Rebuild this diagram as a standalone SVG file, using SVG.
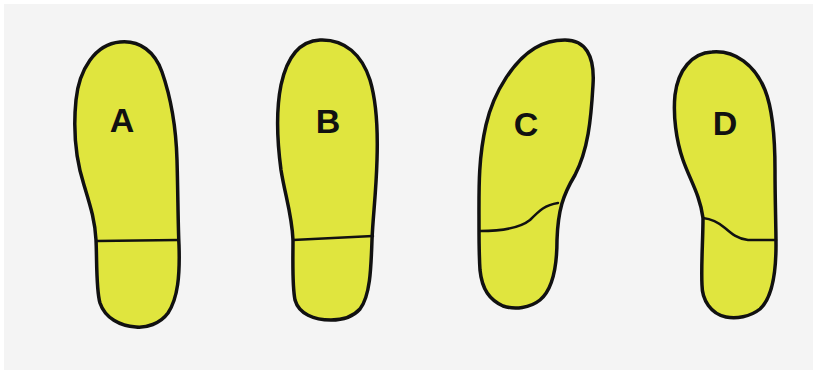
<svg xmlns="http://www.w3.org/2000/svg" width="813" height="374" viewBox="0 0 813 374">
  <style>
    .sole { fill: #e0e53e; stroke: #111; stroke-width: 3.5; stroke-linejoin: round; }
    .seam { fill: none; stroke: #111; stroke-width: 2.5; stroke-linecap: round; }
    .label { font-family: "Liberation Sans", Arial, sans-serif; font-weight: bold; font-size: 34px; fill: #111; text-anchor: middle; }
  </style>
  <rect width="813" height="374" fill="#ffffff"/>
  <rect x="4" y="4" width="809" height="366" fill="#f4f4f4"/>

  <g id="sole-a">
    <path class="sole" d="M120 42 C140 40 155 52 162 72 C170 95 176 125 177 160 C178 195 178 225 179 245 C180 275 178 298 168 313 C160 324 146 328 136 327 C120 326 105 318 100 303 C96 290 97 260 96 240 C95 220 90 205 84 185 C76 160 73 130 76 100 C79 70 95 44 120 42 Z"/>
    <path class="seam" d="M97 241 L178 240"/>
    <text class="label" x="122" y="132">A</text>
  </g>

  <g id="sole-b">
    <path class="sole" d="M320 40 C345 39 362 55 370 80 C376 100 378 130 377 160 C376 195 373 215 372 240 C371 270 370 296 360 309 C352 318 341 320 331 320 C314 320 299 314 295 300 C292 285 293 260 293 240 C292 215 285 195 281 170 C277 140 276 110 281 85 C287 57 300 41 320 40 Z"/>
    <path class="seam" d="M293 240 L373 236"/>
    <text class="label" x="328" y="133">B</text>
  </g>

  <g id="sole-c">
    <path class="sole" d="M565 40 C585 40 595 55 593 85 C591 120 588 150 575 175 C563 195 558 210 557 240 C557 270 552 290 540 300 C530 308 515 310 503 306 C490 300 482 290 480 270 C479 255 479 240 479 225 C479 190 478 160 486 125 C494 90 515 60 535 48 C545 42 555 40 565 40 Z"/>
    <path class="seam" d="M480 231 C500 231 520 228 530 220 C540 210 545 205 558 203"/>
    <text class="label" x="526" y="136">C</text>
  </g>

  <g id="sole-d">
    <path class="sole" d="M712 52 C735 50 755 65 765 90 C773 110 775 140 775 170 C775 200 776 225 776 245 C776 275 772 298 760 309 C750 317 736 319 726 317 C711 314 702 300 702 285 C701 265 703 240 703 218 C700 195 690 180 683 160 C676 140 673 115 675 95 C678 70 692 53 712 52 Z"/>
    <path class="seam" d="M703 218 C712 219 718 222 725 228 C732 234 738 239 748 240 L776 240"/>
    <text class="label" x="725" y="135">D</text>
  </g>
</svg>
